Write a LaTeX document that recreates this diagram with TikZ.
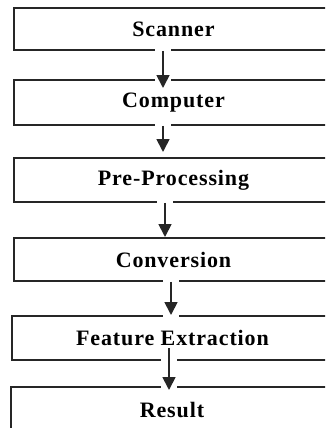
\documentclass[tikz,border=0pt]{standalone}
\usepackage{fontspec}
\setmainfont{Liberation Serif}[LetterSpace=4]
\usetikzlibrary{arrows.meta}
\tikzset{
  box/.style={draw=black!85, line width=1.8pt, rectangle, inner sep=0pt,
    font=\bfseries\fontsize{22}{24}\selectfont},
  flow/.style={draw=black!85, line width=1.8pt, -{Triangle[width=13pt,length=13pt]}},
  gap/.style={fill=white}
}
\begin{document}
\begin{tikzpicture}[x=1pt,y=-1pt]
\useasboundingbox (0,0) rectangle (325,428);
\clip (0,0) rectangle (325,428);
\node[box, minimum width=319pt, minimum height=42pt] (b1) at (173.5,29) {Scanner};
\node[box, minimum width=319pt, minimum height=45pt] (b2) at (173.5,102.5) {Computer};
\node[box, minimum width=319pt, minimum height=44pt] (b3) at (173.5,180) {Pre-Processing};
\node[box, minimum width=319pt, minimum height=43pt] (b4) at (173.5,259.5) {Conversion};
\node[box, minimum width=321pt, minimum height=44pt] (b5) at (172.5,338) {Feature Extraction};
\node[box, minimum width=322pt, minimum height=45pt] (b6) at (172,409.5) {Result};
% arrow end points
\coordinate (t1) at (163,88);
\coordinate (t2) at (163,152);
\coordinate (t3) at (165,237);
\coordinate (t4) at (171,315);
\coordinate (f5) at (169,348);
\coordinate (t5) at (169,390);
% gaps in box lines around the arrows
\fill[gap] (155,47) rectangle (171,53);
\fill[gap] (155,77) rectangle (171,83);
\fill[gap] (155,122) rectangle (171,128);
\fill[gap] (157,199) rectangle (173,205);
\fill[gap] (163,278) rectangle (179,284);
\fill[gap] (163,313) rectangle (179,319);
\fill[gap] (161,357) rectangle (177,363);
\fill[gap] (161,384) rectangle (177,390);
% arrows
\draw[flow] (b1.south -| t1) -- (t1);
\draw[flow] (b2.south -| t2) -- (t2);
\draw[flow] (b3.south -| t3) -- (t3);
\draw[flow] (b4.south -| t4) -- (t4);
\draw[flow] (f5) -- (t5);
\end{tikzpicture}
\end{document}
